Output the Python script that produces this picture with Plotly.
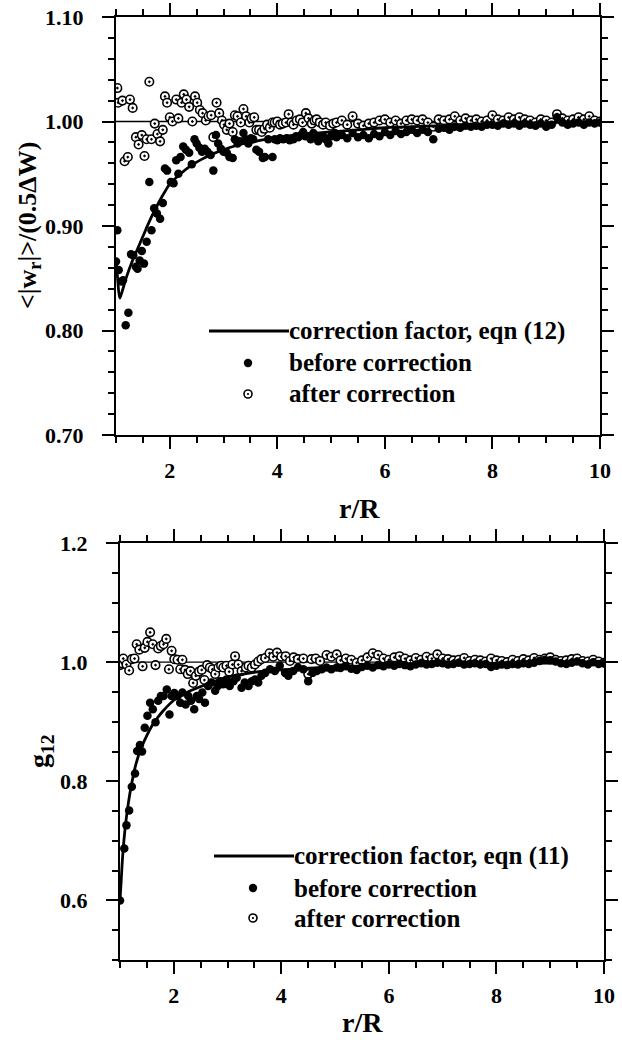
import plotly.graph_objects as go

# ---------------- top panel data ----------------
top_after_x = [1.025, 1.04, 1.12, 1.16, 1.22, 1.26, 1.31, 1.37, 1.42, 1.48, 1.53, 1.57, 1.62, 1.66, 1.72, 1.77,
               1.82, 1.87, 1.91, 1.95, 2.00, 2.05, 2.12, 2.16, 2.22, 2.26, 2.31, 2.36, 2.42, 2.47, 2.51, 2.56,
               2.61, 2.67, 2.72, 2.77, 2.81, 2.87, 2.92, 2.97, 3.01, 3.06, 3.11, 3.17, 3.21, 3.26, 3.32, 3.37,
               3.42, 3.48, 3.52, 3.57, 3.61, 3.66, 3.71, 3.76, 3.81, 3.86, 3.91, 3.95, 4.00, 4.05, 4.10, 4.16,
               4.21, 4.26, 4.30, 4.36, 4.42, 4.47, 4.53, 4.58, 4.64, 4.69, 4.73, 4.79, 4.85, 4.90, 4.98, 5.04,
               5.1, 5.2, 5.3, 5.4, 5.5, 5.6, 5.7, 5.8, 5.9, 6.0, 6.1, 6.2, 6.3, 6.4, 6.5, 6.6, 6.7, 6.8, 6.9,
               7.0, 7.1, 7.2, 7.3, 7.4, 7.5, 7.6, 7.7, 7.8, 7.9, 8.0, 8.1, 8.2, 8.3, 8.4, 8.5, 8.6, 8.7, 8.8,
               8.9, 9.0, 9.1, 9.2, 9.3, 9.4, 9.5, 9.6, 9.7, 9.8, 9.9, 10.0]
top_after_y = [1.032, 1.018, 1.020, 0.962, 0.966, 1.021, 1.013, 0.985, 0.978, 0.987, 0.967, 0.983, 1.038, 0.983,
               0.998, 0.988, 0.981, 0.992, 1.024, 1.018, 1.004, 1.000, 1.021, 1.003, 1.018, 1.026, 1.021, 1.014,
               1.000, 1.024, 1.018, 1.011, 1.008, 1.001, 1.005, 1.006, 0.985, 1.018, 1.008, 1.001, 0.997, 0.992,
               0.998, 0.990, 1.006, 1.005, 0.999, 1.012, 1.005, 0.999, 1.003, 1.004, 0.992, 0.992, 0.990, 0.993,
               0.997, 0.994, 0.999, 0.999, 1.000, 0.997, 0.998, 0.999, 1.007, 0.999, 0.997, 1.001, 1.002, 0.999,
               1.008, 1.003, 0.998, 1.001, 1.002, 0.999, 0.997, 0.999, 0.996, 0.998,
               0.999, 1.001, 0.997, 1.005, 0.998, 0.996, 0.998, 0.999, 1.001, 1.002, 0.999, 1.001, 0.998, 1.001,
               1.002, 1.001, 1.002, 0.999, 0.995, 1.002, 1.001, 1.002, 1.005, 1.001, 1.003, 1.001, 1.002, 1.000,
               1.001, 1.006, 1.002, 1.001, 1.004, 1.002, 1.004, 1.002, 1.001, 0.999, 1.002, 1.001, 0.999, 1.007,
               1.003, 1.001, 1.002, 1.004, 1.002, 1.005, 1.001, 1.000]

top_before_x = [1.00, 1.025, 1.05, 1.105, 1.13, 1.18, 1.23, 1.28, 1.32, 1.37, 1.40, 1.44, 1.48, 1.52, 1.57, 1.62,
                1.66, 1.71, 1.76, 1.82, 1.87, 1.91, 1.95, 2.02, 2.07, 2.12, 2.16, 2.20, 2.25, 2.30, 2.36, 2.41,
                2.46, 2.50, 2.55, 2.60, 2.65, 2.70, 2.76, 2.81, 2.86, 2.90, 2.95, 3.00, 3.06, 3.11, 3.17, 3.21,
                3.26, 3.30, 3.37, 3.41, 3.46, 3.51, 3.55, 3.61, 3.66, 3.73, 3.77, 3.83, 3.91, 3.95, 4.00, 4.05,
                4.11, 4.17, 4.23, 4.30, 4.35, 4.39, 4.44, 4.48, 4.52, 4.57, 4.62, 4.67, 4.71, 4.76, 4.80, 4.85,
                4.90, 4.95, 5.00, 5.07,
                5.1, 5.2, 5.3, 5.4, 5.5, 5.6, 5.7, 5.8, 5.9, 6.0, 6.1, 6.2, 6.3, 6.4, 6.5, 6.6, 6.7, 6.8, 6.9,
                7.0, 7.1, 7.2, 7.3, 7.4, 7.5, 7.6, 7.7, 7.8, 7.9, 8.0, 8.1, 8.2, 8.3, 8.4, 8.5, 8.6, 8.7, 8.8,
                8.9, 9.0, 9.1, 9.2, 9.3, 9.4, 9.5, 9.6, 9.7, 9.8, 9.9, 10.0]
top_before_y = [0.866, 0.896, 0.858, 0.847, 0.848, 0.805, 0.817, 0.873, 0.872, 0.861, 0.859, 0.867, 0.876, 0.864,
                0.885, 0.942, 0.896, 0.917, 0.912, 0.907, 0.922, 0.955, 0.953, 0.942, 0.941, 0.963, 0.950, 0.966,
                0.976, 0.973, 0.970, 0.959, 0.983, 0.979, 0.975, 0.971, 0.974, 0.971, 0.968, 0.953, 0.987, 0.979,
                0.974, 0.971, 0.970, 0.966, 0.965, 0.983, 0.979, 0.981, 0.989, 0.983, 0.979, 0.984, 0.983, 0.973,
                0.971, 0.965, 0.966, 0.983, 0.966, 0.983, 0.982, 0.984, 0.983, 0.984, 0.982, 0.983, 0.986, 0.985,
                0.987, 0.990, 0.986, 0.986, 0.983, 0.989, 0.985, 0.981, 0.984, 0.986, 0.983, 0.979, 0.986, 0.989,
                0.985, 0.987, 0.984, 0.989, 0.985, 0.987, 0.984, 0.988, 0.986, 0.990, 0.987, 0.991, 0.988, 0.990,
                0.992, 0.989, 0.992, 0.990, 0.983, 0.993, 0.994, 0.992, 0.995, 0.994, 0.996, 0.995, 0.996, 0.995,
                0.997, 0.997, 0.996, 0.998, 0.997, 0.998, 0.996, 0.998, 0.997, 0.996, 0.998, 0.995, 0.997, 1.004,
                0.999, 0.997, 0.998, 0.999, 0.997, 0.999, 0.998, 0.999]

top_fit_x = [1.0, 1.03, 1.07, 1.1, 1.2, 1.3, 1.4, 1.5, 1.6, 1.7, 1.8, 1.9, 2.0, 2.2, 2.4, 2.6, 2.8, 3.0, 3.3,
             3.6, 4.0, 4.5, 5.0, 5.5, 6.0, 7.0, 8.0, 9.0, 10.0]
top_fit_y = [0.868, 0.850, 0.831, 0.835, 0.852, 0.866, 0.878, 0.890, 0.902, 0.913, 0.923, 0.932, 0.940, 0.950,
             0.958, 0.964, 0.969, 0.973, 0.978, 0.981, 0.985, 0.988, 0.990, 0.992, 0.994, 0.996, 0.998, 0.999, 1.000]

# ---------------- bottom panel data ----------------
bot_after_x = [1.00, 1.04, 1.06, 1.12, 1.17, 1.22, 1.27, 1.31, 1.36, 1.42, 1.46, 1.51, 1.56, 1.61, 1.66, 1.71,
               1.76, 1.81, 1.86, 1.91, 1.96, 2.01, 2.07, 2.12, 2.16, 2.21, 2.26, 2.31, 2.36, 2.41, 2.47, 2.52,
               2.57, 2.62, 2.67, 2.72, 2.77, 2.83, 2.88, 2.92, 2.98, 3.03, 3.09, 3.14, 3.20, 3.26, 3.34, 3.39,
               3.45, 3.51, 3.57, 3.63, 3.70, 3.78, 3.85, 3.92, 4.00, 4.08, 4.16, 4.23, 4.31, 4.41, 4.50, 4.56,
               4.64, 4.72, 4.84, 4.93, 5.03,
               5.1, 5.2, 5.3, 5.4, 5.5, 5.6, 5.7, 5.8, 5.9, 6.0, 6.1, 6.2, 6.3, 6.4, 6.5, 6.6, 6.7, 6.8, 6.9,
               7.0, 7.1, 7.2, 7.3, 7.4, 7.5, 7.6, 7.7, 7.8, 7.9, 8.0, 8.1, 8.2, 8.3, 8.4, 8.5, 8.6, 8.7, 8.8,
               8.9, 9.0, 9.1, 9.2, 9.3, 9.4, 9.5, 9.6, 9.7, 9.8, 9.9, 10.0]
bot_after_y = [0.995, 0.998, 1.006, 0.996, 0.986, 1.005, 1.006, 1.030, 1.021, 0.993, 1.024, 1.034, 1.050, 1.030,
               0.995, 1.023, 1.027, 1.030, 1.039, 0.988, 1.019, 1.005, 1.004, 0.988, 1.004, 0.987, 0.980, 0.985,
               0.965, 0.977, 0.984, 0.987, 0.970, 0.995, 0.991, 0.988, 0.980, 0.991, 0.994, 0.991, 0.994, 0.984,
               0.996, 1.010, 0.996, 0.985, 0.991, 0.994, 0.991, 0.996, 1.001, 1.005, 1.007, 1.015, 1.009, 1.016,
               1.009, 1.010, 1.002, 1.008, 1.005, 1.006, 0.980, 1.005, 1.006, 1.002, 1.012, 1.009, 1.013,
               1.003, 1.006, 1.004, 0.999, 1.003, 1.008, 1.015, 1.012, 1.006, 1.004, 1.008, 1.010, 1.006, 1.003,
               1.007, 1.004, 1.009, 1.006, 1.013, 1.006, 1.005, 1.003, 1.004, 1.007, 1.002, 1.004, 1.003, 1.001,
               1.006, 1.003, 1.002, 1.000, 1.004, 1.002, 1.005, 1.003, 1.007, 1.004, 1.006, 1.008, 1.004, 1.002,
               1.003, 1.005, 1.006, 1.002, 1.001, 1.004, 1.001, 0.999]

bot_before_x = [1.00, 1.08, 1.12, 1.17, 1.22, 1.28, 1.32, 1.37, 1.41, 1.46, 1.51, 1.56, 1.61, 1.66, 1.71, 1.76,
                1.81, 1.87, 1.92, 1.96, 2.01, 2.07, 2.12, 2.16, 2.22, 2.27, 2.32, 2.38, 2.43, 2.47, 2.53, 2.58,
                2.64, 2.70, 2.77, 2.82, 2.87, 2.92, 2.98, 3.04, 3.11, 3.17, 3.26, 3.32, 3.39, 3.45, 3.51, 3.57,
                3.63, 3.70, 3.79, 3.88, 3.97, 4.07, 4.13, 4.22, 4.31, 4.41, 4.50, 4.58, 4.66, 4.75, 4.84, 4.93,
                5.03,
                5.1, 5.2, 5.3, 5.4, 5.5, 5.6, 5.7, 5.8, 5.9, 6.0, 6.1, 6.2, 6.3, 6.4, 6.5, 6.6, 6.7, 6.8, 6.9,
                7.0, 7.1, 7.2, 7.3, 7.4, 7.5, 7.6, 7.7, 7.8, 7.9, 8.0, 8.1, 8.2, 8.3, 8.4, 8.5, 8.6, 8.7, 8.8,
                8.9, 9.0, 9.1, 9.2, 9.3, 9.4, 9.5, 9.6, 9.7, 9.8, 9.9, 10.0]
bot_before_y = [0.600, 0.687, 0.726, 0.751, 0.791, 0.813, 0.851, 0.861, 0.850, 0.890, 0.910, 0.932, 0.921, 0.899,
                0.935, 0.943, 0.943, 0.954, 0.912, 0.943, 0.948, 0.943, 0.932, 0.949, 0.929, 0.943, 0.935, 0.921,
                0.943, 0.938, 0.949, 0.932, 0.960, 0.966, 0.952, 0.960, 0.968, 0.963, 0.971, 0.960, 0.968, 0.974,
                0.957, 0.966, 0.960, 0.968, 0.971, 0.966, 0.977, 0.982, 0.988, 0.985, 0.994, 0.982, 0.977, 0.985,
                0.991, 0.988, 0.968, 0.982, 0.985, 0.988, 0.991, 0.988, 0.991,
                0.990, 0.993, 0.989, 0.987, 0.992, 0.994, 0.991, 0.995, 0.993, 0.996, 0.994, 0.997, 0.995, 0.993,
                0.996, 0.998, 0.996, 0.997, 0.999, 0.998, 0.996, 0.997, 0.999, 0.996, 0.997, 0.998, 0.996, 0.997,
                0.992, 0.994, 0.996, 0.995, 0.997, 0.996, 0.998, 0.997, 0.999, 1.002, 1.004, 1.003, 1.001, 0.998,
                0.997, 0.999, 1.001, 0.998, 0.996, 1.000, 0.997, 0.998]

bot_fit_x = [1.0, 1.02, 1.05, 1.1, 1.15, 1.2, 1.3, 1.4, 1.5, 1.6, 1.7, 1.8, 2.0, 2.2, 2.5, 3.0, 3.5, 4.0, 5.0,
             6.0, 7.0, 8.0, 10.0]
bot_fit_y = [0.600, 0.630, 0.675, 0.725, 0.760, 0.788, 0.830, 0.857, 0.877, 0.894, 0.907, 0.918, 0.936, 0.947,
             0.959, 0.975, 0.983, 0.987, 0.992, 0.995, 0.997, 0.998, 0.999]

# ---------------- text ----------------
top_ylabel = "&lt;|w<sub>r</sub>|&gt;/(0.5ΔW)"
bot_ylabel = "g<sub>12</sub>"
xlabel = "r/R"
top_legend = ["correction factor, eqn (12)", "before correction", "after correction"]
bot_legend = ["correction factor, eqn (11)", "before correction", "after correction"]

W, H = 622, 1043
FONT = "Liberation Serif, Times New Roman, serif"


def px(v):
    return v / W


def py(v):
    return 1 - v / H


open_marker = dict(symbol="circle-dot", size=8.5, color="white", line=dict(color="black", width=1.6))
filled_marker = dict(symbol="circle", size=8.5, color="black", line=dict(width=0))

fig = go.Figure()
for xa, ya, ax_, ay_, bx_, by_, fx_, fy_ in [
    ("x", "y", top_after_x, top_after_y, top_before_x, top_before_y, top_fit_x, top_fit_y),
    ("x2", "y2", bot_after_x, bot_after_y, bot_before_x, bot_before_y, bot_fit_x, bot_fit_y),
]:
    fig.add_trace(go.Scatter(x=ax_, y=ay_, mode="markers", marker=open_marker, xaxis=xa, yaxis=ya,
                             showlegend=False, name="after correction"))
    fig.add_trace(go.Scatter(x=bx_, y=by_, mode="markers", marker=filled_marker, xaxis=xa, yaxis=ya,
                             showlegend=False, name="before correction"))
    fig.add_trace(go.Scatter(x=fx_, y=fy_, mode="lines", line=dict(color="black", width=2.8, shape="spline"),
                             xaxis=xa, yaxis=ya, showlegend=False, name="correction factor"))

tickfont = dict(family=FONT, size=22, color="black", weight="bold")
common_axis = dict(showline=True, linewidth=2, linecolor="black", mirror="allticks", ticks="outside",
                   tickwidth=2, ticklen=12, tickcolor="black", showgrid=False, zeroline=False,
                   tickfont=tickfont, automargin=False)

fig.update_layout(
    width=W, height=H, margin=dict(l=0, r=0, t=0, b=0, pad=0), autosize=False,
    plot_bgcolor="white", paper_bgcolor="white", showlegend=False,
    xaxis=dict(domain=[px(116), px(600)], range=[1, 10], anchor="y", dtick=2, tick0=0,
               minor=dict(dtick=0.5, tick0=0, ticklen=6, tickwidth=1.5, ticks="outside", tickcolor="black"),
               ticklabelstandoff=3, **common_axis),
    yaxis=dict(domain=[py(435), py(17)], range=[0.70, 1.10], anchor="x", dtick=0.1, tick0=0, tickformat=".2f",
               minor=dict(dtick=0.02, tick0=0, ticklen=6, tickwidth=1.5, ticks="outside", tickcolor="black"),
               ticklabelstandoff=14, **common_axis),
    xaxis2=dict(domain=[px(120), px(604)], range=[1, 10], anchor="y2", dtick=2, tick0=0,
                minor=dict(dtick=0.5, tick0=0, ticklen=6, tickwidth=1.5, ticks="outside", tickcolor="black"),
                ticklabelstandoff=3, **common_axis),
    yaxis2=dict(domain=[py(960), py(543)], range=[0.5, 1.2], anchor="x2", dtick=0.2, tick0=0, tickformat=".1f",
                minor=dict(dtick=0.05, tick0=0, ticklen=6, tickwidth=1.5, ticks="outside", tickcolor="black"),
                ticklabelstandoff=14, **common_axis),
)

shapes = []
annotations = []
# reference lines at 1.0
for xr, yr in [("x domain", "y"), ("x2 domain", "y2")]:
    shapes.append(dict(type="line", xref=xr, yref=yr, x0=0, x1=1, y0=1.0, y1=1.0,
                       line=dict(color="black", width=1.3), layer="below"))

textfont = dict(family=FONT, size=25, color="black", weight="bold")


def add_legend(labels, line_x0, line_x1, text_x, mark_x, rows):
    shapes.append(dict(type="line", xref="paper", yref="paper", x0=px(line_x0), x1=px(line_x1),
                       y0=py(rows[0]), y1=py(rows[0]), line=dict(color="black", width=2.8)))
    # filled marker sample
    shapes.append(dict(type="circle", xref="paper", yref="paper", xsizemode="pixel", ysizemode="pixel",
                       xanchor=px(mark_x), yanchor=py(rows[1]), x0=-4.2, x1=4.2, y0=-4.2, y1=4.2,
                       fillcolor="black", line=dict(width=0)))
    # open-dot marker sample
    shapes.append(dict(type="circle", xref="paper", yref="paper", xsizemode="pixel", ysizemode="pixel",
                       xanchor=px(mark_x), yanchor=py(rows[2]), x0=-4, x1=4, y0=-4, y1=4,
                       fillcolor="white", line=dict(color="black", width=1.6)))
    shapes.append(dict(type="circle", xref="paper", yref="paper", xsizemode="pixel", ysizemode="pixel",
                       xanchor=px(mark_x), yanchor=py(rows[2]), x0=-1.1, x1=1.1, y0=-1.1, y1=1.1,
                       fillcolor="black", line=dict(width=0)))
    for lab, ry in zip(labels, rows):
        annotations.append(dict(text=lab, xref="paper", yref="paper", x=px(text_x), y=py(ry),
                                xanchor="left", yanchor="middle", showarrow=False, font=textfont))


add_legend(top_legend, 209, 289, 287, 248, [331, 363, 394])
add_legend(bot_legend, 214, 294, 292, 253, [856, 888, 918])

titlefont = dict(family=FONT, size=28, color="black", weight="bold")
annotations.append(dict(text=xlabel, xref="paper", yref="paper", x=px(359), y=py(508), xanchor="center",
                        yanchor="middle", showarrow=False, font=titlefont))
annotations.append(dict(text=xlabel, xref="paper", yref="paper", x=px(362), y=py(1022), xanchor="center",
                        yanchor="middle", showarrow=False, font=titlefont))
annotations.append(dict(text=top_ylabel, xref="paper", yref="paper", x=px(29), y=py(226), xanchor="center",
                        yanchor="middle", textangle=-90, showarrow=False,
                        font=dict(family=FONT, size=26, color="black", weight="bold")))
annotations.append(dict(text=bot_ylabel, xref="paper", yref="paper", x=px(40), y=py(751), xanchor="center",
                        yanchor="middle", textangle=-90, showarrow=False, font=titlefont))

fig.update_layout(shapes=shapes, annotations=annotations)
fig.write_html("out.html")
